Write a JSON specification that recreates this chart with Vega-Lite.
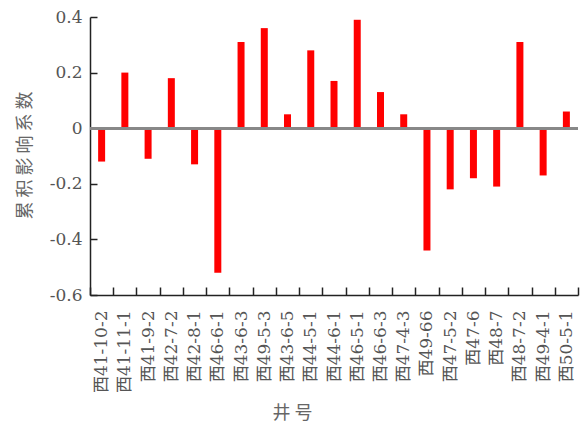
{
  "$schema": "https://vega.github.io/schema/vega-lite/v6.json",
  "width": 488,
  "height": 278,
  "autosize": {"type": "none"},
  "padding": {"left": 90, "top": 17, "right": 8, "bottom": 131},
  "background": "white",
  "config": {
    "view": {"stroke": null},
    "axis": {
      "grid": false,
      "domainColor": "#222222",
      "domainWidth": 1.5,
      "tickColor": "#222222",
      "tickWidth": 1.5,
      "labelColor": "#555555",
      "labelFont": "DejaVu Serif, Noto Sans CJK SC",
      "labelFontSize": 17,
      "titleColor": "#666666",
      "titleFont": "Noto Sans CJK SC",
      "titleFontWeight": "normal",
      "titleFontSize": 18
    }
  },
  "data": {
    "values": [
      {"well": "西41-10-2", "value": -0.12},
      {"well": "西41-11-1", "value": 0.2},
      {"well": "西41-9-2", "value": -0.11},
      {"well": "西42-7-2", "value": 0.18},
      {"well": "西42-8-1", "value": -0.13},
      {"well": "西46-6-1", "value": -0.52},
      {"well": "西43-6-3", "value": 0.31},
      {"well": "西49-5-3", "value": 0.36},
      {"well": "西43-6-5", "value": 0.05},
      {"well": "西44-5-1", "value": 0.28},
      {"well": "西44-6-1", "value": 0.17},
      {"well": "西46-5-1", "value": 0.39},
      {"well": "西46-6-3", "value": 0.13},
      {"well": "西47-4-3", "value": 0.05},
      {"well": "西49-66", "value": -0.44},
      {"well": "西47-5-2", "value": -0.22},
      {"well": "西47-6", "value": -0.18},
      {"well": "西48-7", "value": -0.21},
      {"well": "西48-7-2", "value": 0.31},
      {"well": "西49-4-1", "value": -0.17},
      {"well": "西50-5-1", "value": 0.06}
    ]
  },
  "layer": [
    {
      "mark": {"type": "bar", "color": "#ff0000", "width": 7},
      "encoding": {
        "x": {
          "field": "well",
          "type": "nominal",
          "sort": null,
          "scale": {"paddingInner": 0, "paddingOuter": 0},
          "axis": {
            "title": "井 号",
            "tickBand": "extent",
            "tickSize": -8,
            "labelAngle": -90,
            "labelAlign": "right",
            "labelBaseline": "middle",
            "labelPadding": 23,
            "titleX": 202,
            "titleY": 118,
            "titleBaseline": "middle",
            "titleAlign": "center"
          }
        },
        "y": {
          "field": "value",
          "type": "quantitative",
          "scale": {"domain": [-0.6, 0.4], "nice": false},
          "axis": {
            "title": "累 积 影 响 系 数",
            "values": [-0.6, -0.4, -0.2, 0, 0.2, 0.4],
            "labelExpr": "datum.value == 0 ? '0' : (datum.value < 0 ? '-' + format(-datum.value, '.1f') : format(datum.value, '.1f'))",
            "tickSize": -7,
            "labelPadding": 15,
            "titleX": -65,
            "titleY": 138,
            "titleAngle": -90,
            "titleBaseline": "middle",
            "titleAlign": "center"
          }
        }
      }
    },
    {
      "mark": {"type": "rule", "color": "#888888", "strokeWidth": 2},
      "encoding": {"y": {"datum": 0}}
    }
  ]
}
